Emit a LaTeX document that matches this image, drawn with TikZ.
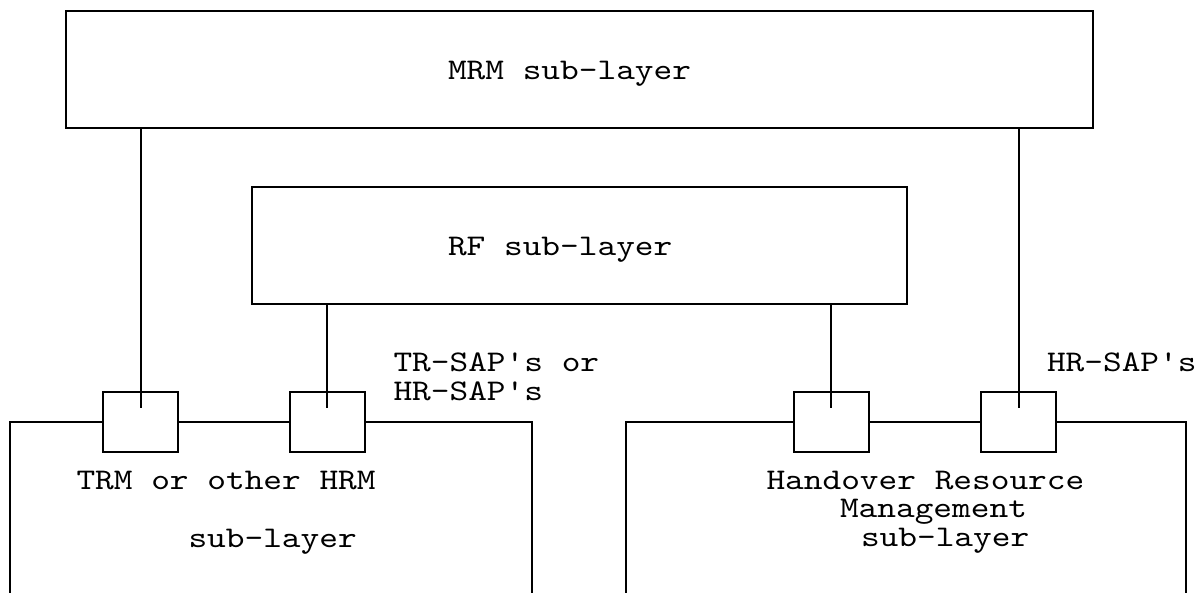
\documentclass[tikz,border=0pt]{standalone}
\usepackage{fontspec}
\setmonofont{lmmono10-regular}[Extension=.otf,FakeStretch=1.187]
\begin{document}
\begin{tikzpicture}[x=1pt,y=-1pt,
  every path/.style={line width=2pt},
  layer/.style={draw,line width=2pt,rectangle,inner sep=0pt},
  sapbox/.style={draw,line width=2pt,rectangle,inner sep=0pt,minimum width=75pt,minimum height=59pt},
  lbl/.style={inner sep=0pt,anchor=base west,font=\ttfamily\fontsize{30}{30}\selectfont}]
\useasboundingbox (0,0) rectangle (1202,593);
% layer boxes
\node[layer,minimum width=1027pt,minimum height=117pt] (mrm) at (579.5,70) {};
\node[layer,minimum width=655pt,minimum height=117pt] (rf) at (579.5,245.5) {};
% SAP boxes
\node[sapbox] (sap1) at (140.5,422) {};
\node[sapbox] (sap2) at (327,422) {};
\node[sapbox] (sap3) at (831,422) {};
\node[sapbox] (sap4) at (1018.5,422) {};
% outer sub-layer boxes (open at the bottom)
\coordinate (lbl0) at (9.5,593);
\coordinate (lbr0) at (532,593);
\coordinate (rbl0) at (626,593);
\coordinate (rbr0) at (1186,593);
\draw (lbl0) |- (sap1.west);
\draw (sap1.east) -- (sap2.west);
\draw (sap2.east) -| (lbr0);
\draw (rbl0) |- (sap3.west);
\draw (sap3.east) -- (sap4.west);
\draw (sap4.east) -| (rbr0);
% connectors
\draw (mrm.south -| sap1.center) -- ([yshift=14pt]sap1.center);
\draw (rf.south -| sap2.center) -- ([yshift=14pt]sap2.center);
\draw (rf.south -| sap3.center) -- ([yshift=14pt]sap3.center);
\draw (mrm.south -| sap4.center) -- ([yshift=14pt]sap4.center);
% texts
\node[lbl] (tmrm) at (447,80) {MRM sub-layer};
\node[lbl] (trf) at (447,256) {RF sub-layer};
\node[lbl] (tsap1) at (392.5,371.5) {TR-SAP's or};
\node[lbl] (tsap2) at (392.5,400.5) {HR-SAP's};
\node[lbl] (tsap3) at (1046,372) {HR-SAP's};
\node[lbl] (ttrm) at (75.5,489) {TRM or other HRM};
\node[lbl] (tsub1) at (187.5,547.5) {sub-layer};
\node[lbl] (thand) at (765.5,489) {Handover Resource};
\node[lbl] (tman) at (839,517) {Management};
\node[lbl] (tsub2) at (860,546.5) {sub-layer};
\end{tikzpicture}
\end{document}
